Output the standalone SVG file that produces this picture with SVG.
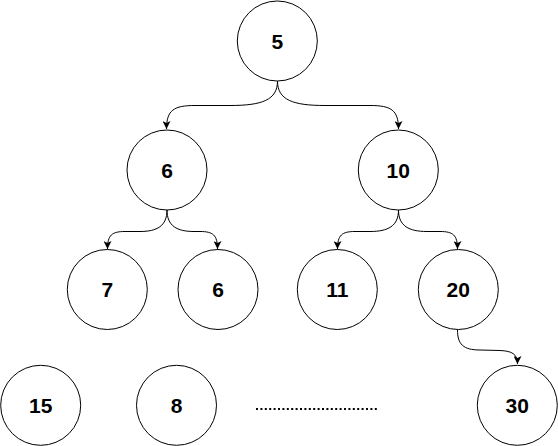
<svg xmlns="http://www.w3.org/2000/svg" width="558" height="446" viewBox="0 0 558 446">
<style>
.n circle{fill:#fff;stroke:#000;stroke-width:1}
.n text{font-family:"Liberation Sans",Arial,sans-serif;font-weight:bold;font-size:21px;text-anchor:middle;fill:#000}
.e{fill:none;stroke:#000;stroke-width:1;marker-end:url(#arr)}
</style>
<defs>
<marker id="arr" viewBox="0 0 8 8" refX="8" refY="4" markerWidth="8" markerHeight="8" markerUnits="userSpaceOnUse" orient="auto">
<path d="M0,0 L8,4 L0,8 L2,4 Z" fill="#000"/>
</marker>
</defs>
<rect width="558" height="446" fill="#fff"/>
<g id="connectors">
<path class="e" d="M277.5 81 C277.5 100 262 105.5 230 105.5 L195 105.5 C174 105.5 166.5 110 166.5 129"/>
<path class="e" d="M277.5 81 C277.5 100 293 105.5 325 105.5 L370 105.5 C391 105.5 398.5 110 398.5 129"/>
<path class="e" d="M167 210 C167 226 157 231.5 140 231.5 L125 231.5 C112 231.5 107.5 235 107.5 249"/>
<path class="e" d="M167 210 C167 226 177 231.5 194 231.5 L200 231.5 C213 231.5 217.5 235 217.5 249"/>
<path class="e" d="M398.5 210 C398.5 226 388 231.5 370 231.5 L355 231.5 C342 231.5 337.5 235 337.5 249"/>
<path class="e" d="M398.5 210 C398.5 226 409 231.5 427 231.5 L440 231.5 C453 231.5 457.5 235 457.5 249"/>
<path class="e" d="M457.5 330 C457.5 344 463 350 480 350 L500 350.5 C512 351 517.5 354 517.5 364"/>
<line x1="256" y1="409" x2="379" y2="409" stroke="#000" stroke-width="2" stroke-dasharray="2 2.4"/>
</g>
<g id="n5" class="n"><circle cx="277.3" cy="41" r="40"/><text x="277.3" y="48.5">5</text></g>
<g id="n6" class="n"><circle cx="167" cy="170" r="40"/><text x="167" y="177.5">6</text></g>
<g id="n10" class="n"><circle cx="398.3" cy="170" r="40"/><text x="398.3" y="177.5">10</text></g>
<g id="n7" class="n"><circle cx="107.3" cy="289.5" r="40"/><text x="107.3" y="297">7</text></g>
<g id="n6b" class="n"><circle cx="218" cy="289.5" r="40"/><text x="218" y="297">6</text></g>
<g id="n11" class="n"><circle cx="337.3" cy="289.5" r="40"/><text x="337.3" y="297">11</text></g>
<g id="n20" class="n"><circle cx="458.3" cy="289.5" r="40"/><text x="458.3" y="297">20</text></g>
<g id="n15" class="n"><circle cx="40.7" cy="405.3" r="40"/><text x="40.7" y="412.8">15</text></g>
<g id="n8" class="n"><circle cx="176.5" cy="405.3" r="40"/><text x="176.5" y="412.8">8</text></g>
<g id="n30" class="n"><circle cx="517.3" cy="405.3" r="40"/><text x="517.3" y="412.8">30</text></g>
</svg>
